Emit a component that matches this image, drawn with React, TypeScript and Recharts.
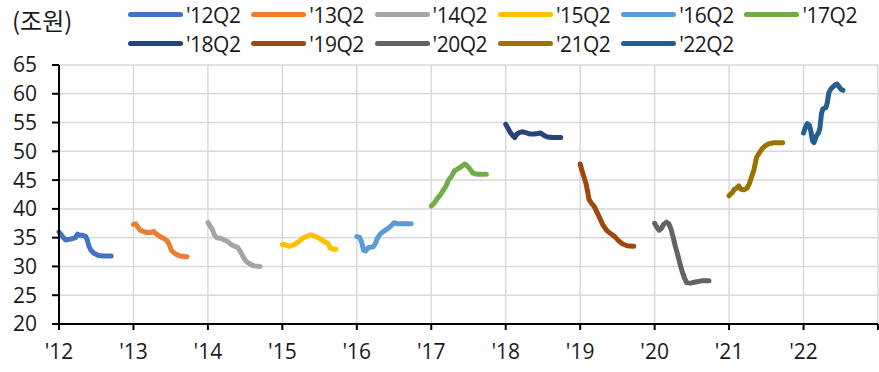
import React from "react";
import { LineChart, Line, XAxis, YAxis, CartesianGrid } from "recharts";

// Each series: [fraction of year elapsed, value in 조원], starting from January of its year
const q12: [number, number][] = [
  [0.0, 36.0], [0.03, 35.5], [0.06, 35.0], [0.09, 34.6], [0.13, 34.7], [0.17, 34.8],
  [0.22, 35.0], [0.25, 35.6], [0.28, 35.4], [0.32, 35.4], [0.36, 35.2], [0.38, 34.6],
  [0.4, 33.6], [0.43, 32.8], [0.47, 32.3], [0.53, 31.9], [0.6, 31.8], [0.7, 31.8],
];
const q13: [number, number][] = [
  [0.0, 37.3], [0.03, 37.4], [0.06, 36.8], [0.09, 36.3], [0.13, 36.1], [0.18, 35.9],
  [0.24, 35.9], [0.27, 36.1], [0.31, 35.6], [0.36, 35.2], [0.4, 34.9], [0.45, 34.5],
  [0.48, 33.8], [0.51, 32.8], [0.56, 32.2], [0.62, 31.8], [0.72, 31.7],
];
const q14: [number, number][] = [
  [0.0, 37.6], [0.03, 37.0], [0.06, 36.4], [0.09, 35.4], [0.12, 35.0], [0.17, 34.9],
  [0.22, 34.6], [0.27, 34.3], [0.31, 33.8], [0.36, 33.5], [0.4, 33.3], [0.44, 32.5],
  [0.48, 31.5], [0.52, 30.8], [0.57, 30.4], [0.62, 30.1], [0.7, 30.0],
];
const q15: [number, number][] = [
  [0.0, 33.8], [0.04, 33.8], [0.08, 33.5], [0.12, 33.6], [0.17, 33.9], [0.22, 34.3],
  [0.27, 34.9], [0.32, 35.2], [0.38, 35.5], [0.43, 35.3], [0.48, 35.0], [0.53, 34.6],
  [0.58, 34.2], [0.62, 33.9], [0.64, 33.2], [0.68, 33.0], [0.72, 33.0],
];
const q16: [number, number][] = [
  [0.0, 35.2], [0.04, 35.0], [0.07, 34.0], [0.09, 32.8], [0.12, 32.7], [0.16, 33.3],
  [0.22, 33.4], [0.25, 34.0], [0.28, 35.0], [0.32, 35.7], [0.37, 36.2], [0.42, 36.6],
  [0.47, 37.2], [0.5, 37.6], [0.55, 37.4], [0.62, 37.4], [0.73, 37.4],
];
const q17: [number, number][] = [
  [0.0, 40.5], [0.04, 41.0], [0.08, 41.8], [0.12, 42.4], [0.16, 43.2], [0.2, 44.0],
  [0.23, 45.0], [0.27, 45.6], [0.31, 46.6], [0.35, 46.9], [0.4, 47.3], [0.45, 47.8],
  [0.48, 47.5], [0.52, 46.9], [0.56, 46.2], [0.62, 46.0], [0.74, 46.0],
];
const q18: [number, number][] = [
  [0.0, 54.7], [0.03, 54.0], [0.06, 53.3], [0.09, 52.8], [0.12, 52.4], [0.15, 53.0],
  [0.19, 53.3], [0.23, 53.4], [0.28, 53.2], [0.33, 53.0], [0.38, 53.0], [0.43, 53.1],
  [0.47, 53.2], [0.51, 52.8], [0.56, 52.5], [0.64, 52.4], [0.74, 52.4],
];
const q19: [number, number][] = [
  [0.0, 47.8], [0.02, 46.8], [0.05, 45.6], [0.08, 44.3], [0.1, 43.0], [0.12, 41.6],
  [0.15, 41.0], [0.19, 40.4], [0.23, 39.3], [0.27, 38.2], [0.31, 37.1], [0.36, 36.2],
  [0.41, 35.7], [0.47, 35.1], [0.52, 34.4], [0.57, 33.9], [0.63, 33.6], [0.72, 33.5],
];
const q20: [number, number][] = [
  [0.0, 37.5], [0.03, 36.8], [0.06, 36.3], [0.09, 36.6], [0.12, 37.3], [0.16, 37.7],
  [0.19, 37.4], [0.22, 36.5], [0.25, 35.0], [0.28, 33.4], [0.31, 32.0], [0.34, 30.5],
  [0.37, 29.1], [0.4, 28.0], [0.43, 27.2], [0.48, 27.1], [0.55, 27.3], [0.63, 27.5], [0.73, 27.5],
];
const q21: [number, number][] = [
  [0.0, 42.3], [0.04, 42.8], [0.07, 43.4], [0.1, 43.6], [0.13, 44.0], [0.16, 43.4],
  [0.2, 43.3], [0.24, 43.6], [0.27, 44.3], [0.3, 45.5], [0.33, 46.6], [0.35, 47.8],
  [0.37, 49.0], [0.4, 49.6], [0.44, 50.4], [0.48, 50.9], [0.53, 51.3], [0.6, 51.5], [0.72, 51.5],
];
const q22: [number, number][] = [
  [0.0, 53.2], [0.02, 54.0], [0.05, 54.8], [0.08, 54.5], [0.1, 53.4], [0.12, 51.8],
  [0.14, 51.5], [0.17, 52.6], [0.2, 53.2], [0.22, 54.0], [0.24, 56.5], [0.26, 57.4],
  [0.3, 57.6], [0.32, 58.5], [0.34, 60.2], [0.37, 60.9], [0.41, 61.4], [0.45, 61.7],
  [0.48, 61.2], [0.5, 60.8], [0.53, 60.6],
];

const seriesNames = ["'12Q2", "'13Q2", "'14Q2", "'15Q2", "'16Q2", "'17Q2", "'18Q2", "'19Q2", "'20Q2", "'21Q2", "'22Q2"];
const seriesYears = [2012, 2013, 2014, 2015, 2016, 2017, 2018, 2019, 2020, 2021, 2022];
const seriesPoints = [q12, q13, q14, q15, q16, q17, q18, q19, q20, q21, q22];
const colors = ["#4472C4", "#ED7D31", "#A5A5A5", "#FFC000", "#5B9BD5", "#70AD47", "#264478", "#9E480E", "#636363", "#997300", "#255E91"];

const xTicks = [2012, 2013, 2014, 2015, 2016, 2017, 2018, 2019, 2020, 2021, 2022, 2023];
const yTicks = [20, 25, 30, 35, 40, 45, 50, 55, 60, 65];

const FONT = "'Open Sans', 'Noto Sans CJK KR', sans-serif";
const KR_FONT = "'Noto Sans CJK KR', sans-serif";

const series = seriesNames.map((name, i) => ({
  name,
  color: colors[i],
  data: seriesPoints[i].map(([f, v]) => ({ t: seriesYears[i] + f, v })),
}));

function LegendRows() {
  const rows = [series.slice(0, 6), series.slice(6)];
  return (
    <div style={{ position: "absolute", left: 128, top: 0, fontFamily: FONT, fontSize: 21, color: "#1a1a1a" }}>
      {rows.map((row, r) => (
        <div key={r} style={{ display: "flex", height: 29, alignItems: "center" }}>
          {row.map((s) => (
            <div key={s.name} style={{ display: "flex", alignItems: "center", width: 123.3 }}>
              <div style={{ width: 55, height: 4.5, borderRadius: 2.5, background: s.color, marginRight: 3 }} />
              <span style={{ letterSpacing: -0.5 }}>{s.name}</span>
            </div>
          ))}
        </div>
      ))}
    </div>
  );
}

export default function App() {
  return (
    <div style={{ position: "relative", width: 879, height: 372, background: "#fff" }}>
      <style>{`body{margin:0}`}</style>
      <div style={{ position: "absolute", left: 12, top: 4, fontFamily: KR_FONT, fontSize: 24, lineHeight: "32px", color: "#1a1a1a" }}>(조원)</div>
      <LegendRows />
      <LineChart width={879} height={372} margin={{ top: 65, right: 1, bottom: 0, left: 0 }}>
        <CartesianGrid stroke="#d9d9d9" strokeWidth={1.5} />
        <XAxis
          type="number"
          dataKey="t"
          domain={[2012, 2023]}
          ticks={xTicks}
          allowDuplicatedCategory={false}
          height={48}
          tickSize={6}
          tickMargin={14}
          interval={0}
          tickFormatter={(v: number) => (v === 2023 ? "" : `'${String(v).slice(2)}`)}
          tick={{ fill: "#1a1a1a", fontSize: 21, fontFamily: FONT }}
          axisLine={{ stroke: "#000", strokeWidth: 2 }}
          tickLine={{ stroke: "#000", strokeWidth: 2 }}
        />
        <YAxis
          type="number"
          domain={[20, 65]}
          ticks={yTicks}
          width={59}
          tickSize={7}
          tickMargin={15}
          interval={0}
          tick={{ fill: "#1a1a1a", fontSize: 21, fontFamily: FONT }}
          axisLine={{ stroke: "#000", strokeWidth: 2 }}
          tickLine={{ stroke: "#000", strokeWidth: 2 }}
        />
        {series.map((s) => (
          <Line
            key={s.name}
            data={s.data}
            dataKey="v"
            name={s.name}
            type="linear"
            stroke={s.color}
            strokeWidth={5}
            strokeLinecap="round"
            strokeLinejoin="round"
            dot={false}
            isAnimationActive={false}
          />
        ))}
      </LineChart>
    </div>
  );
}
